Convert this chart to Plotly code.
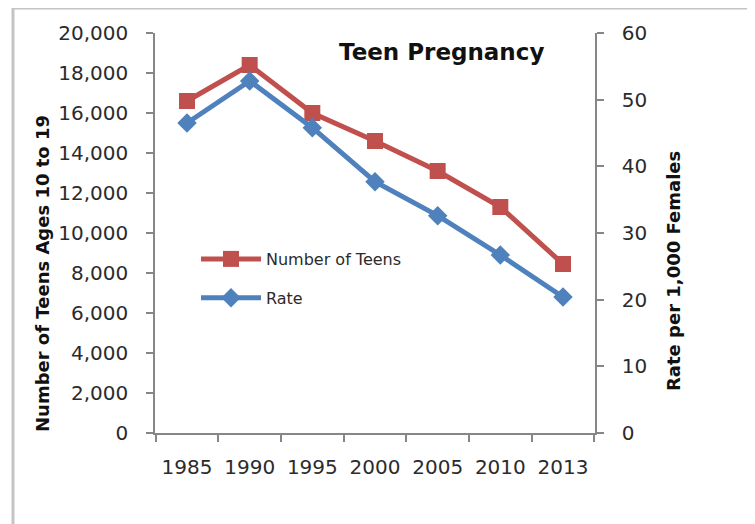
import plotly.graph_objects as go

years = ["1985", "1990", "1995", "2000", "2005", "2010", "2013"]
number_of_teens = [16600, 18400, 16000, 14600, 13100, 11300, 8450]
rate = [46.5, 52.8, 45.8, 37.7, 32.6, 26.7, 20.4]
left_ticks = [0, 2000, 4000, 6000, 8000, 10000, 12000, 14000, 16000, 18000, 20000]
right_ticks = [0, 10, 20, 30, 40, 50, 60]

RED = "#C0504D"
BLUE = "#4F81BD"
AX = "#868686"
TXT = "#2b2b2b"
FONT = "DejaVu Sans"

# page offsets: plotly page has 8px body margin
PL, PR, PT, PB = 155, 595, 33, 433


def px(x):
    return (x - PL) / (PR - PL)


def py(y):
    return (PB - y) / (PB - PT)


fig = go.Figure()
fig.add_trace(go.Scatter(
    x=years, y=number_of_teens, name="Number of Teens", mode="lines+markers",
    line=dict(color=RED, width=5), marker=dict(symbol="square", size=16, color=RED),
    legendgroup="a", yaxis="y"))
fig.add_trace(go.Scatter(
    x=years, y=rate, name="Rate", mode="lines+markers",
    line=dict(color=BLUE, width=5), marker=dict(symbol="diamond", size=15, color=BLUE),
    legendgroup="b", yaxis="y2"))

axis_common = dict(showline=True, linecolor=AX, linewidth=1.5, ticks="outside",
                   tickcolor=AX, tickwidth=1.5, ticklen=7, showgrid=False,
                   zeroline=False, tickfont=dict(family=FONT, size=20, color=TXT))

fig.update_layout(
    width=747, height=516,
    margin=dict(l=147, r=160, t=25, b=91),
    paper_bgcolor="white", plot_bgcolor="white",
    font=dict(family=FONT, color=TXT),
    xaxis=dict(type="category", tickson="boundaries", ticklabelstandoff=15, **axis_common),
    yaxis=dict(range=[0, 20000], tickvals=left_ticks, tickformat=",",
               ticklabelstandoff=14, **axis_common),
    yaxis2=dict(range=[0, 60], tickvals=right_ticks, overlaying="y", side="right",
                ticklabelstandoff=14, **axis_common),
    showlegend=True,
    legend=dict(x=px(196), y=py(242), xanchor="left", yanchor="top", bgcolor="rgba(0,0,0,0)",
                font=dict(family=FONT, size=16, color=TXT), itemwidth=60,
                tracegroupgap=15),
    annotations=[
        dict(text="<b>Teen Pregnancy</b>", x=px(441), y=py(52), xref="paper", yref="paper",
             xanchor="center", yanchor="middle", showarrow=False,
             font=dict(family=FONT, size=23, color="#111111")),
        dict(text="<b>Number of Teens Ages 10 to 19</b>", x=px(42), y=py(274),
             xref="paper", yref="paper", xanchor="center", yanchor="middle",
             showarrow=False, textangle=-90,
             font=dict(family=FONT, size=18, color="#111111")),
        dict(text="<b>Rate per 1,000 Females</b>", x=px(673), y=py(271),
             xref="paper", yref="paper", xanchor="center", yanchor="middle",
             showarrow=False, textangle=-90,
             font=dict(family=FONT, size=18, color="#111111")),
    ],
    shapes=[
        dict(type="rect", xref="paper", yref="paper",
             x0=px(13), x1=px(751), y0=py(545), y1=py(8),
             line=dict(color="#c4c4c4", width=3), layer="below"),
    ],
)

fig.write_html("out.html")
